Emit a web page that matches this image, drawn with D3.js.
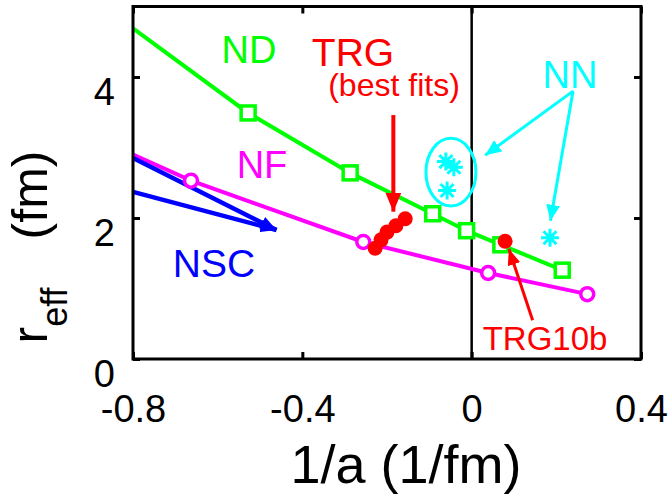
<!DOCTYPE html>
<html lang="en">
<head>
<meta charset="UTF-8">
<title>r_eff vs 1/a</title>
<script src="https://d3js.org/d3.v7.min.js"></script>
<style>
  body { margin: 0; background: #fff; }
  svg { display: block; font-family: "Liberation Sans", Arial, Helvetica, sans-serif; }
</style>
</head>
<body>
<svg width="672" height="500"></svg>
<script>
// ---- data ----
const xTicks = [-0.8, -0.4, 0, 0.4];
const yTicks = [0, 2, 4];

// ND (green, squares) - first point is where the line enters the frame
const ndX = [-0.8, -0.528, -0.287, -0.092, -0.012, 0.069, 0.214];
const ndY = [4.69, 3.49, 2.64, 2.06, 1.82, 1.62, 1.26];

// NF (magenta, open circles)
const nfX = [-0.8, -0.663, -0.256, 0.039, 0.273];
const nfY = [2.90, 2.53, 1.66, 1.22, 0.92];

// NSC (blue) two lines meeting in one arrow tip
const nscStartY = [2.85, 2.37];
const nscTip = [-0.461, 1.83];

// TRG best fits (red dots) and TRG10b
const trgX = [-0.228, -0.214, -0.200, -0.179, -0.157];
const trgY = [1.57, 1.69, 1.80, 1.89, 1.99];
const trg10bX = [0.079];
const trg10bY = [1.67];

// NN (cyan asterisks)
const nnX = [-0.061, -0.042, -0.058, 0.185];
const nnY = [2.80, 2.72, 2.39, 1.72];

const width = 672, height = 500;
const svg = d3.select("svg");

const x = d3.scaleLinear().domain([-0.8, 0.4]).range([133, 641]);
const y = d3.scaleLinear().domain([0, 5]).range([359, 6.5]);

const GREEN = "#00ff00", MAGENTA = "#ff00ff", BLUE = "#0000ff", RED = "#ff0000", CYAN = "#00ffff";

// arrow heads
const defs = svg.append("defs");
function head(id, color, len, wid) {
  defs.append("marker")
    .attr("id", id)
    .attr("markerUnits", "userSpaceOnUse")
    .attr("viewBox", `0 ${-wid / 2} ${len} ${wid}`)
    .attr("refX", len).attr("refY", 0)
    .attr("markerWidth", len).attr("markerHeight", wid)
    .attr("orient", "auto")
    .append("path")
    .attr("d", `M0,${-wid / 2}L${len},0L0,${wid / 2}Z`)
    .attr("fill", color);
}
head("hBlue", BLUE, 16, 13);
head("hRed", RED, 19, 16);
head("hRed2", RED, 16, 13);
head("hCyan", CYAN, 16, 14);

// x = 0 line
svg.append("line")
  .attr("x1", x(0)).attr("x2", x(0))
  .attr("y1", y(5)).attr("y2", y(0))
  .attr("stroke", "#000").attr("stroke-width", 2.5);

const line = d3.line().x(d => x(d[0])).y(d => y(d[1]));

// ND
const nd = ndX.map((v, i) => [v, ndY[i]]);
svg.append("path").datum(nd).attr("d", line)
  .attr("fill", "none").attr("stroke", GREEN).attr("stroke-width", 4);

// NF
const nf = nfX.map((v, i) => [v, nfY[i]]);
svg.append("path").datum(nf).attr("d", line)
  .attr("fill", "none").attr("stroke", MAGENTA).attr("stroke-width", 4);

// NSC arrows
nscStartY.forEach(v => {
  svg.append("line")
    .attr("x1", x(-0.8)).attr("y1", y(v))
    .attr("x2", x(nscTip[0])).attr("y2", y(nscTip[1]))
    .attr("stroke", BLUE).attr("stroke-width", 4.5)
    .attr("marker-end", "url(#hBlue)");
});

// ND squares
svg.selectAll(".nd").data(nd.slice(1)).enter().append("rect")
  .attr("x", d => x(d[0]) - 7).attr("y", d => y(d[1]) - 7)
  .attr("width", 14).attr("height", 14)
  .attr("fill", "#fff").attr("stroke", GREEN).attr("stroke-width", 3.5);

// NF circles
svg.selectAll(".nf").data(nf.slice(1)).enter().append("circle")
  .attr("cx", d => x(d[0])).attr("cy", d => y(d[1])).attr("r", 6.5)
  .attr("fill", "#fff").attr("stroke", MAGENTA).attr("stroke-width", 3.5);

// TRG dots
svg.selectAll(".trg").data(trgX.map((v, i) => [v, trgY[i]])).enter().append("circle")
  .attr("cx", d => x(d[0])).attr("cy", d => y(d[1])).attr("r", 7.5)
  .attr("fill", RED);
svg.selectAll(".trg10").data(trg10bX.map((v, i) => [v, trg10bY[i]])).enter().append("circle")
  .attr("cx", d => x(d[0])).attr("cy", d => y(d[1])).attr("r", 7.5)
  .attr("fill", RED);

// NN asterisks
const s = 9, sd = s * 0.72;
svg.selectAll(".nn").data(nnX.map((v, i) => [v, nnY[i]])).enter().append("path")
  .attr("transform", d => `translate(${x(d[0])},${y(d[1])})`)
  .attr("d", `M${-s},0H${s}M0,${-s}V${s}M${-sd},${-sd}L${sd},${sd}M${-sd},${sd}L${sd},${-sd}`)
  .attr("stroke", CYAN).attr("stroke-width", 3).attr("fill", "none");

// ellipse around NN group
svg.append("ellipse")
  .attr("cx", x(-0.049)).attr("cy", y(2.65))
  .attr("rx", x(-0.049 + 0.059) - x(-0.049)).attr("ry", y(2.65) - y(2.65 + 0.48))
  .attr("fill", "none").attr("stroke", CYAN).attr("stroke-width", 3);

// annotation arrows
function arrow(p0, p1, color, w, m) {
  svg.append("line")
    .attr("x1", x(p0[0])).attr("y1", y(p0[1]))
    .attr("x2", x(p1[0])).attr("y2", y(p1[1]))
    .attr("stroke", color).attr("stroke-width", w)
    .attr("marker-end", `url(#${m})`);
}
arrow([-0.185, 3.46], [-0.185, 2.09], RED, 4, "hRed");
arrow([0.144, 0.55], [0.088, 1.56], RED, 3, "hRed2");
arrow([0.2395, 3.80], [0.032, 2.89], CYAN, 3, "hCyan");
arrow([0.2395, 3.80], [0.186, 1.96], CYAN, 3, "hCyan");

// frame + inward ticks
const g = svg.append("g");
g.append("rect")
  .attr("x", x(-0.8)).attr("y", y(5))
  .attr("width", x(0.4) - x(-0.8)).attr("height", y(0) - y(5))
  .attr("fill", "none").attr("stroke", "#000").attr("stroke-width", 3);

const fmt = d => String(d);
const ax = g.append("g").attr("transform", `translate(0,${y(0)})`)
  .call(d3.axisBottom(x).tickValues(xTicks).tickFormat(fmt).tickSize(-7).tickPadding(36));
const axT = g.append("g").attr("transform", `translate(0,${y(5)})`)
  .call(d3.axisTop(x).tickValues(xTicks).tickFormat("").tickSize(-7));
const ay = g.append("g").attr("transform", `translate(${x(-0.8)},0)`)
  .call(d3.axisLeft(y).tickValues(yTicks).tickFormat(fmt).tickSize(-7).tickPadding(18));
const ayR = g.append("g").attr("transform", `translate(${x(0.4)},0)`)
  .call(d3.axisRight(y).tickValues(yTicks).tickFormat("").tickSize(-7));
[ax, axT, ay, ayR].forEach(a => {
  a.select(".domain").remove();
  a.selectAll("line").attr("stroke", "#000").attr("stroke-width", 3);
  a.selectAll("text").attr("fill", "#000").attr("font-size", 38)
    .attr("font-family", "'Liberation Sans', Arial, sans-serif");
});
ay.selectAll("text").attr("dy", "0.32em").attr("y", 15);

// axis titles
svg.append("text")
  .attr("x", 406).attr("y", 483)
  .attr("text-anchor", "middle").attr("font-size", 54)
  .text("1/a (1/fm)");

const yl = svg.append("text")
  .attr("transform", "translate(47,247) rotate(-90)")
  .attr("text-anchor", "middle").attr("font-size", 50);
yl.append("tspan").text("r");
yl.append("tspan").attr("font-size", 36).attr("dy", 20).text("eff");
yl.append("tspan").attr("dy", -20).attr("dx", 48).text("(fm)");

// series labels
function label(t, cx, by, size, color) {
  svg.append("text").attr("x", cx).attr("y", by)
    .attr("text-anchor", "middle").attr("font-size", size)
    .attr("fill", color).text(t);
}
label("ND", 249, 63, 38, GREEN);
label("TRG", 353, 66, 39, RED);
label("(best fits)", 394, 96, 32, RED);
label("NF", 262, 178, 38, MAGENTA);
label("NSC", 214, 277, 39, BLUE);
label("NN", 570, 88, 38, CYAN);
label("TRG10b", 545, 350, 33, RED);
</script>
</body>
</html>
